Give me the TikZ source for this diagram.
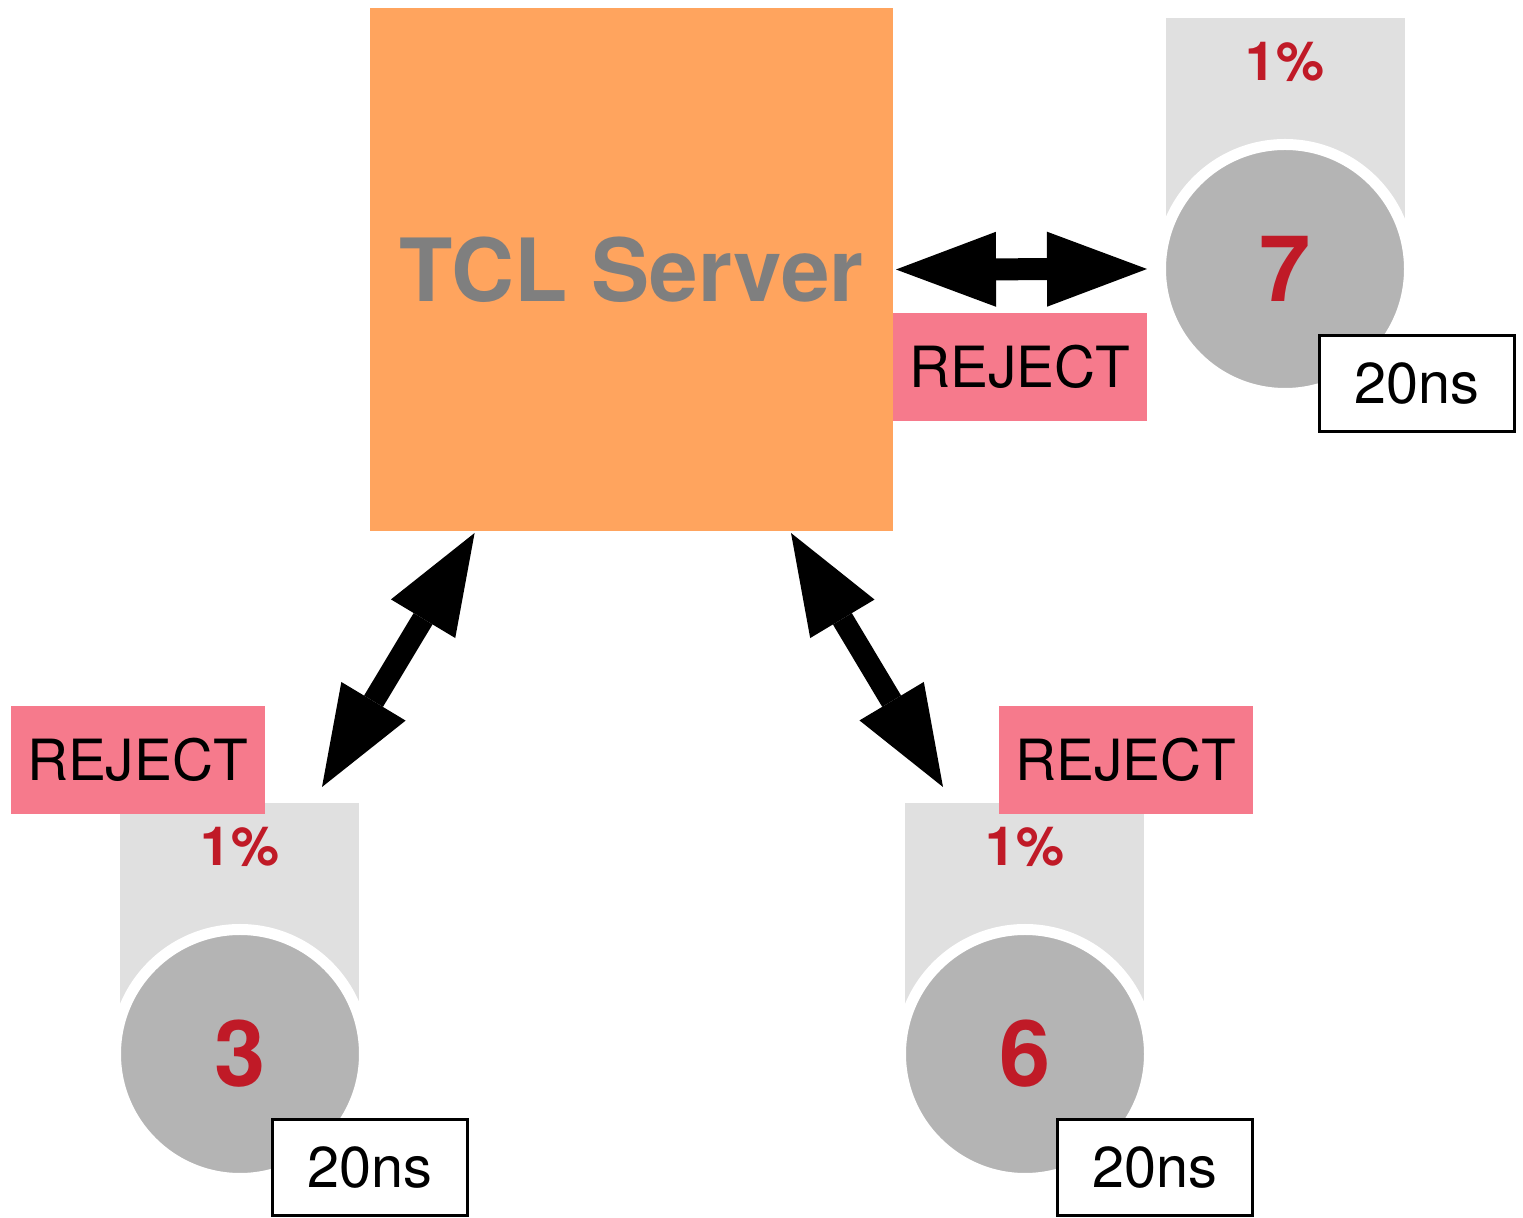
\documentclass[tikz,border=0pt]{standalone}
\usepackage{fontspec}
\setmainfont{TeX Gyre Heros}
\usetikzlibrary{arrows.meta,calc}

\definecolor{srvorange}{HTML}{FFA45E}
\definecolor{rejpink}{HTML}{F67A8C}
\definecolor{shadegray}{HTML}{E0E0E0}
\definecolor{unitgray}{HTML}{B4B4B4}
\definecolor{unitred}{HTML}{C01A27}
\definecolor{labelgray}{HTML}{7F7F7F}

\tikzset{
  server/.style={fill=srvorange, minimum size=261.5pt, inner sep=0pt, outer sep=0pt,
    text=labelgray, font=\fontsize{43.6}{50}\selectfont\bfseries},
  shade/.style={fill=shadegray, minimum width=119.5pt, minimum height=125.5pt,
    inner sep=0pt, outer sep=0pt},
  unit/.style={circle, fill=unitgray, draw=white, line width=5.5pt, minimum size=124.5pt,
    inner sep=0pt, text=unitred, font=\fontsize{46}{52}\selectfont\bfseries},
  pct/.style={inner sep=0pt, text=unitred, font=\fontsize{27}{32}\selectfont\bfseries},
  reject/.style={fill=rejpink, minimum width=127pt, minimum height=54pt, inner sep=0pt,
    outer sep=0pt, font=\fontsize{28.4}{33}\selectfont},
  latency/.style={draw=black, fill=white, line width=1.5pt, minimum width=97.5pt,
    minimum height=48pt, inner sep=0pt, font=\fontsize{28.8}{33}\selectfont},
  fat/.style={line width=11pt,
    {Triangle[length=50pt,width=37.5pt,line width=0pt]}-{Triangle[length=50pt,width=37.5pt,line width=0pt]}},
}

\begin{document}
\begin{tikzpicture}[x=0.5pt,y=-0.5pt]
\useasboundingbox (0,0) rectangle (1523,1218);

% server
\node[server] (server) at (631.5,269.5) {TCL Server};

% unit 7
\node[shade] (shade7) at (1285.5,143.5) {};
\node[pct] (pct7) at (1285,62) {1\%};
\node[unit] (c7) at (1285,269) {7};
\node[latency] (lat7) at (1416.5,383.5) {20ns};
\node[reject] (rej7) at (1020,367) {REJECT};

% unit 3
\node[shade] (shade3) at (239.5,928.5) {};
\node[pct] (pct3) at (240,847) {1\%};
\node[unit] (c3) at (240,1054) {3};
\node[latency] (lat3) at (370,1168) {20ns};
\node[reject] (rej3) at (137.5,760) {REJECT};

% unit 6
\node[shade] (shade6) at (1024.5,928.5) {};
\node[pct] (pct6) at (1025,847) {1\%};
\node[unit] (c6) at (1025,1054) {6};
\node[latency] (lat6) at (1155,1168) {20ns};
\node[reject] (rej6) at (1126,760) {REJECT};

% links
\draw[fat] ([xshift=1.5pt]server.east) -- ([xshift=-4pt]c7.west);
\draw[fat] ($(server.south west)!0.2!(server.south east)+(0,2)$) -- ($(shade3.north)+(82.5,-16)$);
\draw[fat] ($(server.south west)!0.805!(server.south east)+(0,2)$) -- ($(shade6.north)+(-81.5,-16)$);
\end{tikzpicture}
\end{document}
